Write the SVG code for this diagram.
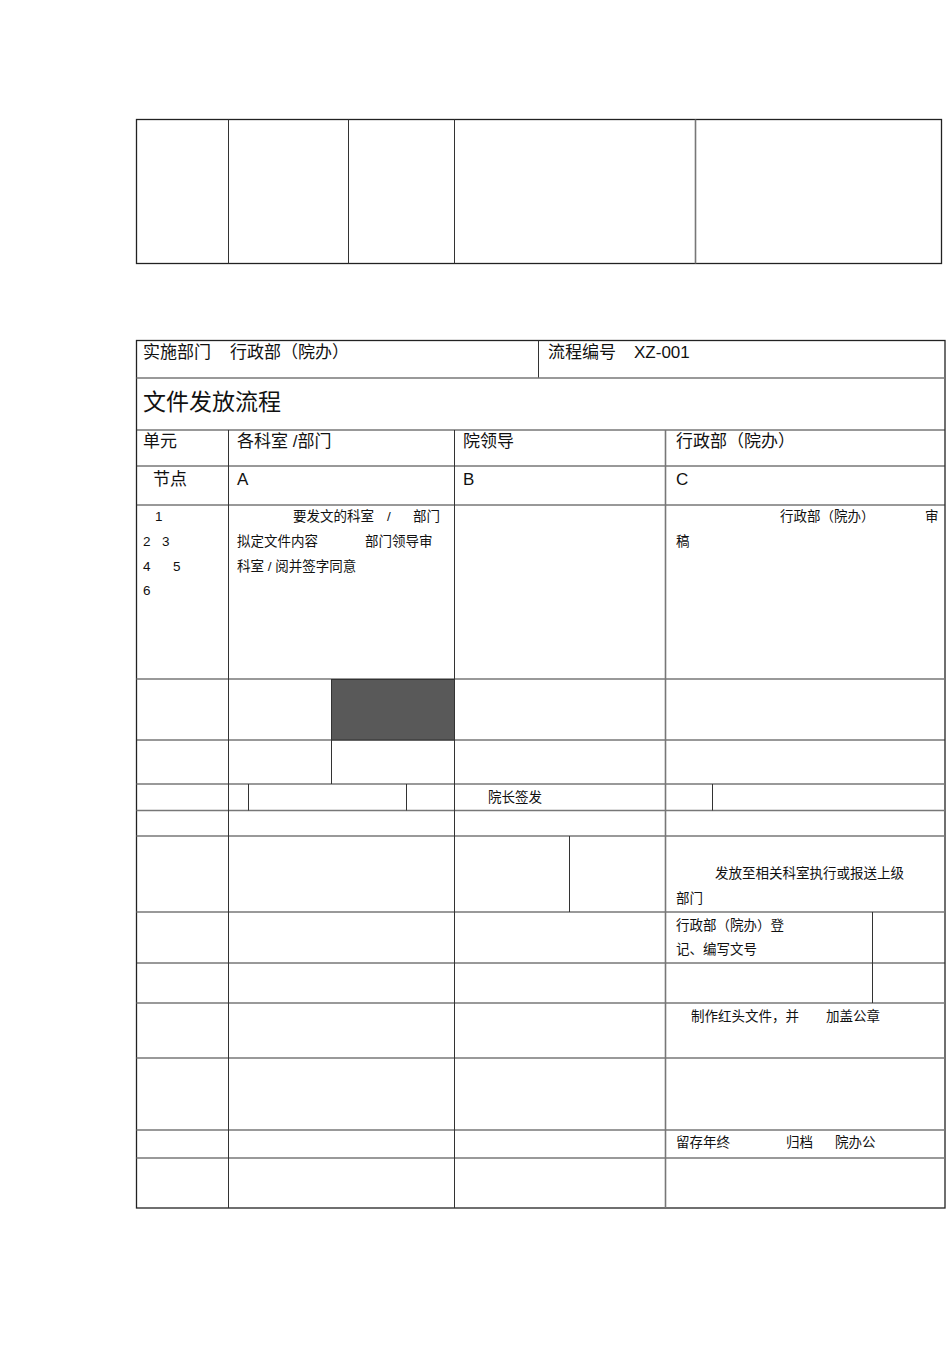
<svg xmlns="http://www.w3.org/2000/svg" width="950" height="1345" viewBox="0 0 950 1345">
<style>
.b{fill:none;stroke:#222;stroke-width:1.3}
.l{stroke:#333;stroke-width:1;fill:none}
.g{stroke:#777;stroke-width:1.6;fill:none}
text{font-family:"Liberation Sans","Noto Sans CJK SC",sans-serif;fill:#111}
.t13{font-size:13.5px}
.t17{font-size:17px}
.t23{font-size:23px}
</style>
<rect width="950" height="1345" fill="#fff"/>
<g id="top-table">
<rect class="b" x="136.5" y="119.5" width="805" height="144"/>
<line class="l" x1="228.5" y1="119.5" x2="228.5" y2="263.5"/>
<line class="l" x1="348.5" y1="119.5" x2="348.5" y2="263.5"/>
<line class="l" x1="454.5" y1="119.5" x2="454.5" y2="263.5"/>
<line class="g" x1="695.5" y1="119.5" x2="695.5" y2="263.5"/>
</g>
<g id="main-table">
<rect class="b" x="136.5" y="340.5" width="808.5" height="867.5"/>
<line class="l" x1="538.5" y1="340.5" x2="538.5" y2="378"/>
<line class="g" x1="136.5" y1="378" x2="945" y2="378"/>
<line class="l" x1="136.5" y1="430" x2="945" y2="430"/>
<line class="l" x1="136.5" y1="466" x2="945" y2="466"/>
<line class="l" x1="136.5" y1="505" x2="945" y2="505"/>
<line class="g" x1="136.5" y1="679" x2="945" y2="679"/>
<line class="l" x1="136.5" y1="740" x2="945" y2="740"/>
<line class="g" x1="136.5" y1="784" x2="945" y2="784"/>
<line class="g" x1="136.5" y1="810.5" x2="945" y2="810.5"/>
<line class="g" x1="136.5" y1="836" x2="945" y2="836"/>
<line class="g" x1="136.5" y1="912" x2="945" y2="912"/>
<line class="l" x1="136.5" y1="963" x2="945" y2="963"/>
<line class="g" x1="136.5" y1="1003" x2="945" y2="1003"/>
<line class="g" x1="136.5" y1="1058" x2="945" y2="1058"/>
<line class="g" x1="136.5" y1="1130" x2="945" y2="1130"/>
<line class="g" x1="136.5" y1="1158" x2="945" y2="1158"/>
<line class="l" x1="228.5" y1="430" x2="228.5" y2="1208"/>
<line class="l" x1="454.5" y1="430" x2="454.5" y2="1208"/>
<line class="g" x1="665.5" y1="430" x2="665.5" y2="1208"/>
<rect x="331.5" y="679.5" width="123" height="60.5" fill="#595959" stroke="#333" stroke-width="1"/>
<line class="l" x1="331.5" y1="740" x2="331.5" y2="784"/>
<line class="l" x1="248.5" y1="784" x2="248.5" y2="810.5"/>
<line class="l" x1="406.5" y1="784" x2="406.5" y2="810.5"/>
<line class="l" x1="712.5" y1="784" x2="712.5" y2="810.5"/>
<line class="l" x1="569.5" y1="836" x2="569.5" y2="912"/>
<line class="l" x1="872.5" y1="912" x2="872.5" y2="1003"/>
</g>
<g id="texts">
<text class="t17" x="143" y="358">实施部门</text>
<text class="t17" x="230" y="358">行政部（院办）</text>
<text class="t17" x="548" y="358">流程编号</text>
<text class="t17" x="634" y="358">XZ-001</text>
<text class="t23" x="143" y="410">文件发放流程</text>
<text class="t17" x="143" y="447">单元</text>
<text class="t17" x="237" y="447">各科室 /部门</text>
<text class="t17" x="463" y="447">院领导</text>
<text class="t17" x="676" y="447">行政部（院办）</text>
<text class="t17" x="153" y="485">节点</text>
<text class="t17" x="237" y="485">A</text>
<text class="t17" x="463" y="485">B</text>
<text class="t17" x="676" y="485">C</text>
<text class="t13" x="155" y="521">1</text>
<text class="t13" x="143" y="546">2</text>
<text class="t13" x="162" y="546">3</text>
<text class="t13" x="143" y="571">4</text>
<text class="t13" x="173" y="571">5</text>
<text class="t13" x="143" y="595">6</text>
<text class="t13" x="293" y="521">要发文的科室</text>
<text class="t13" x="387" y="521">/</text>
<text class="t13" x="413" y="521">部门</text>
<text class="t13" x="237" y="546">拟定文件内容</text>
<text class="t13" x="365" y="546">部门领导审</text>
<text class="t13" x="237" y="571">科室 / 阅并签字同意</text>
<text class="t13" x="780" y="521">行政部（院办）</text>
<text class="t13" x="925" y="521">审</text>
<text class="t13" x="676" y="546">稿</text>
<text class="t13" x="488" y="802">院长签发</text>
<text class="t13" x="715" y="878">发放至相关科室执行或报送上级</text>
<text class="t13" x="676" y="903">部门</text>
<text class="t13" x="676" y="930">行政部（院办）登</text>
<text class="t13" x="676" y="954">记、编写文号</text>
<text class="t13" x="691" y="1021">制作红头文件，并</text>
<text class="t13" x="826" y="1021">加盖公章</text>
<text class="t13" x="676" y="1147">留存年终</text>
<text class="t13" x="786" y="1147">归档</text>
<text class="t13" x="835" y="1147">院办公</text>
</g>
</svg>
